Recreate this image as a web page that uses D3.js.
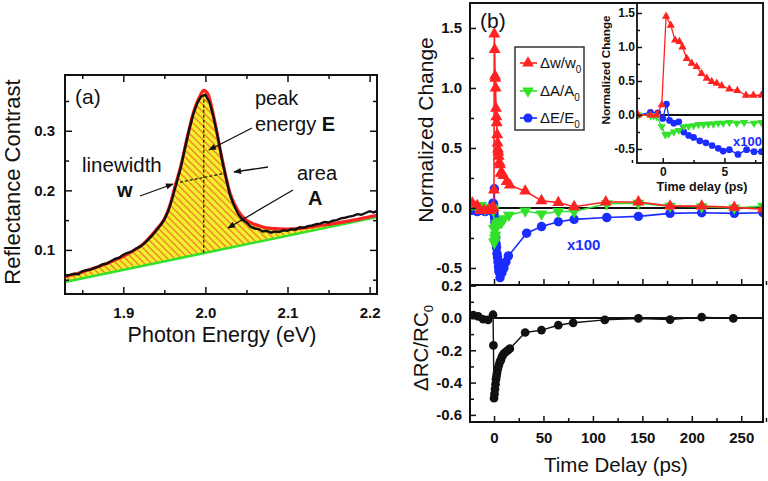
<!DOCTYPE html>
<html><head><meta charset="utf-8">
<script src="https://cdn.jsdelivr.net/npm/d3@7"></script>
<style>body{margin:0;background:#fff}</style>
</head><body>
<script>
// ---------- Panel (a) data ----------
const specE = [1.830,1.835,1.840,1.845,1.850,1.855,1.860,1.865,1.870,1.875,1.880,1.885,1.890,1.895,1.900,1.905,1.910,1.915,1.920,1.925,1.930,1.935,1.940,1.945,1.950,1.955,1.960,1.965,1.970,1.975,1.980,1.985,1.990,1.995,2.000,2.005,2.010,2.015,2.020,2.025,2.030,2.035,2.040,2.045,2.050,2.055,2.060,2.065,2.070,2.075,2.080,2.085,2.090,2.095,2.100,2.105,2.110,2.115,2.120,2.125,2.130,2.135,2.140,2.145,2.150,2.155,2.160,2.165,2.170,2.175,2.180,2.185,2.190,2.195,2.200,2.205,2.210];
const specV = [0.057,0.058,0.060,0.059,0.064,0.066,0.067,0.070,0.072,0.076,0.077,0.081,0.085,0.087,0.092,0.095,0.097,0.102,0.105,0.110,0.117,0.124,0.132,0.141,0.151,0.166,0.188,0.213,0.239,0.270,0.300,0.327,0.346,0.358,0.360,0.348,0.322,0.290,0.253,0.221,0.192,0.174,0.160,0.151,0.146,0.139,0.136,0.135,0.131,0.132,0.129,0.131,0.130,0.133,0.132,0.135,0.134,0.138,0.137,0.140,0.141,0.143,0.144,0.147,0.146,0.149,0.150,0.153,0.154,0.156,0.157,0.160,0.159,0.162,0.165,0.163,0.166];
const fitE = [1.829,1.85,1.87,1.89,1.905,1.925,1.94,1.95,1.957,1.963,1.97,1.978,1.986,1.994,1.998,2.003,2.01,2.02,2.03,2.04,2.05,2.06,2.08,2.10,2.12,2.14,2.16,2.18,2.209];
const fitV = [0.055,0.063,0.072,0.083,0.093,0.111,0.134,0.152,0.176,0.207,0.240,0.290,0.333,0.360,0.368,0.362,0.325,0.255,0.195,0.165,0.150,0.143,0.136,0.135,0.137,0.141,0.145,0.150,0.158];
const baseE = [1.829, 2.209];
const baseV = [0.046, 0.155];
const aXTicks = [1.9, 2.0, 2.1, 2.2];
const aXMinor = [1.85, 1.95, 2.05, 2.15];
const aYTicks = [0.1, 0.2, 0.3];
const aYMinor = [0.05, 0.15, 0.25, 0.35];

// ---------- Panel (b) data ----------
const tRed = [-22,-17,-14,-10,-6,-3,-2,-1,-0.5,-0.08,0.27,0.65,1.0,1.35,1.6,1.95,2.35,2.75,3.15,3.57,3.97,4.38,4.78,5.4,6.05,6.75,7.35,8.0,9.5,12.8,16,31.5,48,65,81,113,146,178,210,243,272];
const vRed = [0.04,0.02,-0.02,-0.02,-0.02,-0.02,0.0,0.0,0.0,0.15,1.45,1.32,1.10,1.08,1.0,0.83,0.76,0.71,0.61,0.54,0.49,0.465,0.43,0.38,0.36,0.29,0.29,0.29,0.27,0.22,0.19,0.14,0.06,0.045,0.01,0.05,0.05,0.015,0.015,0.005,-0.01];
const tGreen = [-22,-17,-13,-9,-5,-2,-1,-0.75,-0.5,-0.08,0.2,0.47,0.9,1.3,1.7,2.1,2.5,2.9,3.3,3.7,4.1,4.5,4.9,5.4,6.0,6.6,7.4,8.0,10,15,31.5,48,65,81,114,146,178,210,243,272];
const vGreen = [0.03,0.0,0.02,-0.01,0.0,0.0,-0.01,-0.015,-0.02,-0.17,-0.29,-0.28,-0.25,-0.225,-0.17,-0.165,-0.155,-0.14,-0.14,-0.13,-0.13,-0.12,-0.12,-0.11,-0.12,-0.11,-0.12,-0.11,-0.09,-0.06,-0.025,-0.05,-0.03,-0.03,0.035,0.04,0.015,0.01,0.0,0.015];
const tBlue = [-22,-17,-13,-9,-5,-2.1,-1.0,-0.4,0.0,0.3,0.55,0.9,1.3,1.7,2.1,2.5,3.0,3.5,4.0,4.5,4.9,5.4,6.1,6.8,7.4,8.0,10,12,14.5,33,48,65,81,114,146,178,210,243,272];
const vBlue = [-0.02,-0.03,-0.02,-0.03,-0.02,-0.01,0.04,0.03,-0.05,0.16,-0.08,-0.12,-0.1,-0.25,-0.3,-0.33,-0.38,-0.41,-0.45,-0.49,-0.53,-0.51,-0.58,-0.51,-0.54,-0.54,-0.5,-0.45,-0.4,-0.21,-0.155,-0.115,-0.095,-0.08,-0.07,-0.045,-0.04,-0.045,-0.04];
const tRC = [-21,-16,-11,-6,-1,-0.6,0,0.5,1,1.5,2,2.5,3,3.5,4,5,6,7,8,9,10,12,14,16,31.5,48,65,80,112,146,178,210,242];
const vRC = [0.018,0.01,-0.008,-0.012,0.02,-0.17,-0.497,-0.47,-0.44,-0.41,-0.38,-0.36,-0.34,-0.32,-0.31,-0.29,-0.27,-0.26,-0.24,-0.23,-0.22,-0.21,-0.2,-0.19,-0.09,-0.075,-0.045,-0.03,-0.012,-0.003,-0.01,0.005,-0.003];
const bXTicks = [0, 50, 100, 150, 200, 250];
const bXMinor = [-25, 25, 75, 125, 175, 225, 275];
const bYTicks = [-0.5, 0.0, 0.5, 1.0, 1.5];
const bYMinor = [-0.25, 0.25, 0.75, 1.25];
const rcYTicks = [-0.6, -0.4, -0.2, 0.0, 0.2];
const rcYMinor = [-0.5, -0.3, -0.1, 0.1];
const inXTicks = [0, 5];
const inXMinor = [-2.5, 2.5, 7.5];
const inYTicks = [-0.5, 0.0, 0.5, 1.0, 1.5];
const inYMinor = [-0.25, 0.25, 0.75, 1.25];
const legendLabels = [["\u0394w/w","0"],["\u0394A/A","0"],["\u0394E/E","0"]];

const RED = "#ff2222", GREEN = "#33e02a", BLUE = "#1a2cff", INK = "#111";
const FONT = "'Liberation Sans', Arial, Helvetica, sans-serif";
const fmt1 = d => d.toFixed(1);

const svg = d3.select("body").append("svg").attr("width",768).attr("height",481)
  .style("font-family", FONT);
const defs = svg.append("defs");

function ticks(g, axisFn, scale, values, len, labelFmt, pad, fs) {
  const ax = axisFn(scale).tickValues(values).tickSizeInner(-len).tickSizeOuter(0)
    .tickPadding(pad).tickFormat(labelFmt || (() => ""));
  g.call(ax);
  g.select(".domain").remove();
  g.selectAll("line").attr("stroke", INK).attr("stroke-width", 1.5);
  g.selectAll("text").attr("font-family", FONT).attr("font-size", fs || 15)
    .attr("font-weight", "bold").attr("fill", INK);
}

// ================= Panel (a) =================
const xa = d3.scaleLinear([1.829, 2.209], [65, 377]);
const ya = d3.scaleLinear([0.026, 0.3936], [294, 75]);
const A = svg.append("g");

const pat = defs.append("pattern").attr("id","hatch").attr("patternUnits","userSpaceOnUse")
  .attr("width",7).attr("height",7);
pat.append("rect").attr("width",7).attr("height",7).attr("fill","#f3ef2c");
pat.append("path").attr("d","M-1,-1 L8,8 M-1,6 L1,8 M6,-1 L8,1")
  .attr("stroke","#f0802a").attr("stroke-width",1.3);

const fitLine = d3.line().x((d,i)=>xa(fitE[i])).y(d=>ya(d)).curve(d3.curveMonotoneX);
const fitPath = fitLine(fitV);
A.append("path")
  .attr("d", fitPath + `L${xa(baseE[1])},${ya(baseV[1])}L${xa(baseE[0])},${ya(baseV[0])}Z`)
  .attr("fill","url(#hatch)");
A.append("line").attr("x1",xa(baseE[0])).attr("y1",ya(baseV[0]))
  .attr("x2",xa(baseE[1])).attr("y2",ya(baseV[1]))
  .attr("stroke",GREEN).attr("stroke-width",2.5);
A.append("path").attr("d",fitPath).attr("fill","none").attr("stroke",RED).attr("stroke-width",3.2);
A.append("path").attr("d", d3.line().x((d,i)=>xa(specE[i])).y(d=>ya(d))(specV))
  .attr("fill","none").attr("stroke",INK).attr("stroke-width",2.4);

// dashed guides
A.append("line").attr("x1",xa(1.998)).attr("x2",xa(1.998)).attr("y1",ya(0.352)).attr("y2",ya(0.093))
  .attr("stroke",INK).attr("stroke-width",1.2).attr("stroke-dasharray","3,2");
A.append("line").attr("x1",xa(1.963)).attr("x2",xa(2.025)).attr("y1",ya(0.212)).attr("y2",ya(0.229))
  .attr("stroke",INK).attr("stroke-width",1.2).attr("stroke-dasharray","3,2");

// arrows
defs.append("marker").attr("id","arr").attr("viewBox","0 0 10 10").attr("refX",9).attr("refY",5)
  .attr("markerWidth",7).attr("markerHeight",6).attr("orient","auto")
  .append("path").attr("d","M0,1 L10,5 L0,9 Z").attr("fill",INK);
[[140,196,173,184],[268,167,234,172],[252,128,209,150],[293,190,228,228]].forEach(a=>{
  A.append("line").attr("x1",a[0]).attr("y1",a[1]).attr("x2",a[2]).attr("y2",a[3])
    .attr("stroke",INK).attr("stroke-width",1.3).attr("marker-end","url(#arr)");
});

// annotations
const ann = (x,y,parts,fs=20)=>{
  const t = A.append("text").attr("x",x).attr("y",y).attr("font-size",fs).attr("fill",INK);
  parts.forEach(p=>t.append("tspan").text(p[0]).attr("font-weight",p[1]?"bold":"normal"));
};
ann(75,104,[["(a)",0]],21);
ann(255,105,[["peak",0]]);
ann(255,131,[["energy ",0],["E",1]]);
ann(82,172,[["linewidth",0]],20.5);
ann(117,197,[["w",1]]);
ann(297,180,[["area",0]]);
ann(308,205,[["A",1]]);

// frame + ticks
A.append("rect").attr("x",65).attr("y",75).attr("width",312).attr("height",219)
  .attr("fill","none").attr("stroke",INK).attr("stroke-width",2);
ticks(A.append("g").attr("transform","translate(0,294)"), d3.axisBottom, xa, aXTicks, 7, fmt1, 13, 15);
ticks(A.append("g").attr("transform","translate(0,294)"), d3.axisBottom, xa, aXMinor, 4);
ticks(A.append("g").attr("transform","translate(0,75)"), d3.axisTop, xa, aXTicks, 7);
ticks(A.append("g").attr("transform","translate(0,75)"), d3.axisTop, xa, aXMinor, 4);
ticks(A.append("g").attr("transform","translate(65,0)"), d3.axisLeft, ya, aYTicks, 7, fmt1, 10, 15);
ticks(A.append("g").attr("transform","translate(65,0)"), d3.axisLeft, ya, aYMinor, 4);
ticks(A.append("g").attr("transform","translate(377,0)"), d3.axisRight, ya, aYTicks, 7);
ticks(A.append("g").attr("transform","translate(377,0)"), d3.axisRight, ya, aYMinor, 4);
A.append("text").attr("x",222).attr("y",342).attr("text-anchor","middle").attr("font-size",21.5)
  .attr("fill",INK).text("Photon Energy (eV)");
A.append("text").attr("transform","translate(20,182) rotate(-90)").attr("text-anchor","middle")
  .attr("font-size",22).attr("fill",INK).text("Reflectance Contrast");

// ================= Panel (b) =================
const xb = d3.scaleLinear([-24.3, 272], [470, 763]);
const yb = d3.scaleLinear([-0.642, 1.708], [285, 3]);
const yr = d3.scaleLinear([-0.644, 0.204], [422, 285]);
const B = svg.append("g");

defs.append("clipPath").attr("id","clipU").append("rect").attr("x",470).attr("y",3).attr("width",293).attr("height",282);
defs.append("clipPath").attr("id","clipL").append("rect").attr("x",470).attr("y",285).attr("width",293).attr("height",137);

function series(g, x, y, ts, vs, color, shape, size, lw) {
  g.append("path").attr("d", d3.line().x((d,i)=>x(ts[i])).y(d=>y(d))(vs))
    .attr("fill","none").attr("stroke",color).attr("stroke-width",lw);
  const sym = shape==="circle" ? d3.symbol().type(d3.symbolCircle).size(size)
                               : d3.symbol().type(d3.symbolTriangle).size(size);
  g.selectAll(null).data(vs).join("path")
    .attr("d", sym())
    .attr("transform",(d,i)=>`translate(${x(ts[i])},${y(d)})${shape==="down"?" rotate(180)":""}`)
    .attr("fill",color);
}

const U = B.append("g").attr("clip-path","url(#clipU)");
U.append("line").attr("x1",470).attr("x2",763).attr("y1",yb(0)).attr("y2",yb(0)).attr("stroke",INK).attr("stroke-width",2);
series(U, xb, yb, tBlue, vBlue, BLUE, "circle", 70, 1.6);
series(U, xb, yb, tGreen, vGreen, GREEN, "down", 62, 1.6);
series(U, xb, yb, tRed, vRed, RED, "up", 62, 1.6);

const L = B.append("g").attr("clip-path","url(#clipL)");
L.append("line").attr("x1",470).attr("x2",763).attr("y1",yr(0)).attr("y2",yr(0)).attr("stroke",INK).attr("stroke-width",2);
series(L, xb, yr, tRC, vRC, INK, "circle", 60, 1.4);

B.append("rect").attr("x",470).attr("y",3).attr("width",293).attr("height",419)
  .attr("fill","none").attr("stroke",INK).attr("stroke-width",2);
B.append("line").attr("x1",470).attr("x2",763).attr("y1",285).attr("y2",285).attr("stroke",INK).attr("stroke-width",2);

ticks(B.append("g").attr("transform","translate(0,285)"), d3.axisBottom, xb, bXTicks, 6);
ticks(B.append("g").attr("transform","translate(0,285)"), d3.axisBottom, xb, bXMinor, 4);
ticks(B.append("g").attr("transform","translate(0,422)"), d3.axisBottom, xb, bXTicks, 6, d=>String(d), 10, 15);
ticks(B.append("g").attr("transform","translate(0,422)"), d3.axisBottom, xb, bXMinor, 4);
ticks(B.append("g").attr("transform","translate(470,0)"), d3.axisLeft, yb, bYTicks, 6, fmt1, 8, 15);
ticks(B.append("g").attr("transform","translate(470,0)"), d3.axisLeft, yb, bYMinor, 4);
ticks(B.append("g").attr("transform","translate(470,0)"), d3.axisLeft, yr, rcYTicks, 6, fmt1, 8, 15);
ticks(B.append("g").attr("transform","translate(470,0)"), d3.axisLeft, yr, rcYMinor, 4);

B.append("text").attr("x",480).attr("y",28).attr("font-size",21).attr("fill",INK).text("(b)");
B.append("text").attr("x",616).attr("y",472).attr("text-anchor","middle").attr("font-size",20.5)
  .attr("fill",INK).text("Time Delay (ps)");
B.append("text").attr("transform","translate(433,130) rotate(-90)").attr("text-anchor","middle")
  .attr("font-size",21).attr("fill",INK).text("Normalized Change");
const rcT = B.append("text").attr("transform","translate(428,348) rotate(-90)").attr("text-anchor","middle")
  .attr("font-size",20.5).attr("fill",INK);
rcT.append("tspan").text("\u0394RC/RC");
rcT.append("tspan").text("0").attr("font-size",13).attr("dy",5);
B.append("text").attr("x",567).attr("y",250).attr("font-size",15).attr("font-weight","bold")
  .attr("fill",BLUE).text("x100");

// legend
const leg = B.append("g");
leg.append("rect").attr("x",515).attr("y",47).attr("width",69).attr("height",83)
  .attr("fill","#fff").attr("stroke","#333").attr("stroke-width",1.5);
const legColors = [RED, GREEN, BLUE], legShapes = ["up","down","circle"], legY = [63,91,118];
legendLabels.forEach((lab,i)=>{
  const y = legY[i];
  leg.append("line").attr("x1",520).attr("x2",537).attr("y1",y).attr("y2",y)
    .attr("stroke",legColors[i]).attr("stroke-width",1.6);
  const sym = legShapes[i]==="circle" ? d3.symbol().type(d3.symbolCircle).size(64)
                                      : d3.symbol().type(d3.symbolTriangle).size(60);
  leg.append("path").attr("d",sym()).attr("fill",legColors[i])
    .attr("transform",`translate(528,${y})${legShapes[i]==="down"?" rotate(180)":""}`);
  const t = leg.append("text").attr("x",540).attr("y",y+5).attr("font-size",15).attr("fill",INK);
  t.append("tspan").text(lab[0]);
  t.append("tspan").text(lab[1]).attr("font-size",10).attr("dy",5);
});

// ================= Inset =================
const xi = d3.scaleLinear([-2.09, 8.13], [637, 763]);
const yi = d3.scaleLinear([-0.706, 1.647], [163, 3]);
const I = svg.append("g");
I.append("rect").attr("x",637).attr("y",3).attr("width",126).attr("height",160).attr("fill","#fff");
defs.append("clipPath").attr("id","clipI").append("rect").attr("x",637).attr("y",3).attr("width",126).attr("height",160);
const IC = I.append("g").attr("clip-path","url(#clipI)");
IC.append("line").attr("x1",637).attr("x2",763).attr("y1",yi(0)).attr("y2",yi(0)).attr("stroke",INK).attr("stroke-width",1.8);
series(IC, xi, yi, tBlue, vBlue, BLUE, "circle", 36, 1.3);
series(IC, xi, yi, tGreen, vGreen, GREEN, "down", 30, 1.3);
series(IC, xi, yi, tRed, vRed, RED, "up", 30, 1.3);
I.append("rect").attr("x",637).attr("y",3).attr("width",126).attr("height",160)
  .attr("fill","none").attr("stroke",INK).attr("stroke-width",1.8);
ticks(I.append("g").attr("transform","translate(0,163)"), d3.axisBottom, xi, inXTicks, 5, d=>String(d), 4, 12);
ticks(I.append("g").attr("transform","translate(0,163)"), d3.axisBottom, xi, inXMinor, 3);
ticks(I.append("g").attr("transform","translate(637,0)"), d3.axisLeft, yi, inYTicks, 5, fmt1, 2, 12);
ticks(I.append("g").attr("transform","translate(637,0)"), d3.axisLeft, yi, inYMinor, 3);
I.append("text").attr("x",702).attr("y",191).attr("text-anchor","middle").attr("font-size",12.5)
  .attr("font-weight","bold").attr("fill",INK).text("Time delay (ps)");
I.append("text").attr("transform","translate(610,70) rotate(-90)").attr("text-anchor","middle")
  .attr("font-size",11.7).attr("font-weight","bold").attr("fill",INK).text("Normalized Change");
I.append("text").attr("x",733).attr("y",146).attr("font-size",13).attr("font-weight","bold")
  .attr("fill",BLUE).text("x100");
</script></body></html>
